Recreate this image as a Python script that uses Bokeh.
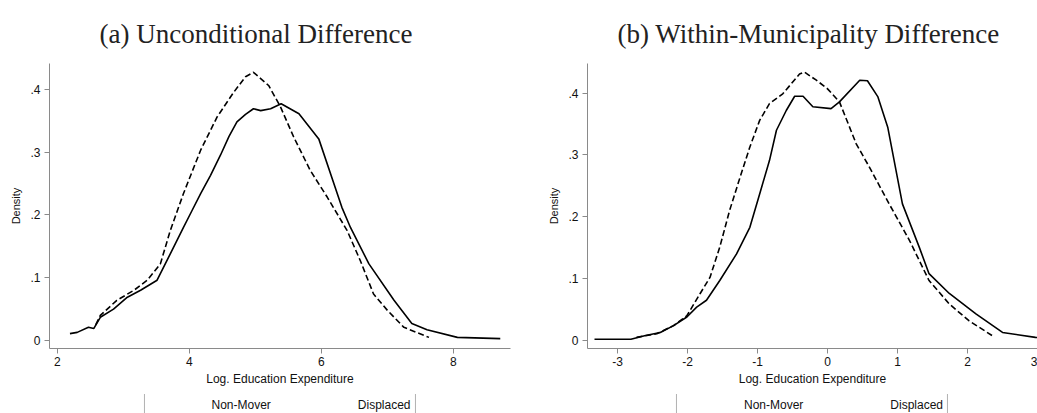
from bokeh.plotting import figure
from bokeh.layouts import gridplot
from bokeh.models import FixedTicker, Range1d, Legend, LegendItem, CustomJSTickFormatter
from bokeh.embed import file_html
from bokeh.resources import INLINE

# ---------------- data ----------------
title_a = "(a) Unconditional Difference"
title_b = "(b) Within-Municipality Difference"
x_label = "Log. Education Expenditure"
y_label = "Density"
series_names = ["Non-Mover", "Displaced"]

y_ticks = [0, 0.1, 0.2, 0.3, 0.4]
y_tick_labels = ["0", ".1", ".2", ".3", ".4"]
x_ticks_a = [2, 4, 6, 8]
x_tick_labels_a = ["2", "4", "6", "8"]
x_ticks_b = [-3, -2, -1, 0, 1, 2, 3]
x_tick_labels_b = ["-3", "-2", "-1", "0", "1", "2", "3"]

nonmover_a_x = [2.19, 2.30, 2.47, 2.55, 2.65, 2.85, 3.06, 3.26, 3.51, 3.71, 3.91, 4.04, 4.17, 4.32,
                4.47, 4.60, 4.72, 4.85, 4.97, 5.08, 5.23, 5.39, 5.66, 5.96, 6.31, 6.44, 6.72, 7.10,
                7.37, 7.60, 8.06, 8.71]
nonmover_a_y = [.011, .013, .021, .019, .037, .050, .069, .080, .096, .138, .180, .207, .234, .263,
                .295, .325, .348, .360, .369, .366, .369, .377, .361, .321, .212, .180, .122, .064,
                .027, .017, .005, .003]
displaced_a_x = [2.58, 2.65, 2.90, 3.16, 3.36, 3.56, 3.71, 3.91, 4.17, 4.42, 4.67, 4.85, 4.97, 5.08,
                 5.20, 5.38, 5.58, 5.83, 6.09, 6.39, 6.59, 6.79, 7.00, 7.25, 7.63]
displaced_a_y = [.025, .040, .064, .080, .096, .122, .175, .234, .303, .356, .395, .420, .427, .417,
                 .406, .372, .324, .271, .228, .175, .127, .074, .048, .021, .005]

nonmover_b_x = [-3.33, -2.81, -2.60, -2.39, -2.20, -2.01, -1.87, -1.73, -1.54, -1.30, -1.11, -0.97,
                -0.83, -0.73, -0.59, -0.47, -0.35, -0.21, 0.05, 0.17, 0.46, 0.57, 0.72, 0.86, 1.07,
                1.31, 1.45, 1.74, 2.12, 2.50, 2.97, 3.30]
nonmover_b_y = [.002, .002, .008, .013, .024, .038, .054, .065, .097, .140, .183, .237, .291, .340,
                .372, .395, .395, .378, .375, .386, .421, .420, .394, .345, .221, .151, .108, .076,
                .043, .013, .005, .002]
displaced_b_x = [-2.73, -2.44, -2.20, -2.01, -1.82, -1.68, -1.54, -1.40, -1.25, -1.11, -0.97, -0.83,
                 -0.64, -0.40, -0.33, -0.16, 0.00, 0.17, 0.41, 0.60, 0.88, 1.17, 1.45, 1.74, 2.02, 2.35]
displaced_b_y = [.005, .011, .024, .040, .076, .102, .151, .210, .264, .313, .356, .383, .399, .431,
                 .434, .421, .407, .386, .318, .280, .221, .162, .097, .059, .032, .008]

AXIS_GRAY = "#8a8a8a"
SANS = "Liberation Sans"
SERIF = "Liberation Serif"

JS_LABELS = """
for (let i = 0; i < tvals.length; i++) {
    if (Math.abs(tick - tvals[i]) < 1e-9) { return tlabels[i]; }
}
return String(tick);
"""


def label_formatter(vals, labels):
    return CustomJSTickFormatter(args=dict(tvals=vals, tlabels=labels), code=JS_LABELS)


def make_panel(title, frame_w, x_range, y_range, x_ticks, x_labels, xs, ys, border_left,
               border_right, title_offset):
    p = figure(frame_width=frame_w, frame_height=285, output_backend="svg", toolbar_location=None,
               x_range=Range1d(*x_range), y_range=Range1d(*y_range), title=title,
               min_border_left=border_left, min_border_right=border_right,
               min_border_top=63, min_border_bottom=0)
    p.outline_line_color = None
    p.grid.visible = False

    p.title.text_font = SERIF
    p.title.text_font_size = "27px"
    p.title.text_font_style = "normal"
    p.title.text_color = "#222222"
    p.title.align = "left"
    p.title.vertical_align = "top"
    p.title.offset = title_offset
    p.title.standoff = 26

    for ax in (p.xaxis[0], p.yaxis[0]):
        ax.axis_line_color = AXIS_GRAY
        ax.major_tick_line_color = AXIS_GRAY
        ax.minor_tick_line_color = None
        ax.major_tick_out = 5
        ax.major_tick_in = 0
        ax.major_label_text_font = SANS
        ax.major_label_text_font_size = "12px"
        ax.major_label_text_color = "#111111"
        ax.axis_label_text_font = SANS
        ax.axis_label_text_font_size = "12px"
        ax.axis_label_text_font_style = "normal"
        ax.axis_label_text_color = "#111111"

    p.xaxis.ticker = FixedTicker(ticks=x_ticks)
    p.xaxis.formatter = label_formatter(x_ticks, x_labels)
    p.xaxis.axis_label = x_label
    p.xaxis.major_label_standoff = 3
    p.xaxis.axis_label_standoff = 3

    p.yaxis.ticker = FixedTicker(ticks=y_ticks)
    p.yaxis.formatter = label_formatter(y_ticks, y_tick_labels)
    p.yaxis.axis_label = y_label
    p.yaxis.major_label_orientation = "horizontal"
    p.yaxis.major_label_standoff = 4
    p.yaxis.axis_label_standoff = 5
    p.yaxis.axis_label_text_font_size = "11px"

    p.line(xs[0], ys[0], line_color="black", line_width=1.6)
    p.line(xs[1], ys[1], line_color="black", line_width=1.6, line_dash="6 3")
    return p


def make_legend(frame_w, border_left, border_right):
    lf = figure(frame_width=frame_w, frame_height=22, output_backend="svg", toolbar_location=None,
                x_axis_type=None, y_axis_type=None,
                min_border_left=border_left, min_border_right=border_right,
                min_border_top=6, min_border_bottom=0)
    lf.outline_line_color = None
    lf.grid.visible = False
    # legend proxies (no data of their own)
    r1 = lf.line(x=[], y=[], line_color="black", line_width=1.6)
    r2 = lf.line(x=[], y=[], line_color="black", line_width=1.6, line_dash="6 3")
    legend = Legend(items=[LegendItem(label=series_names[0], renderers=[r1]),
                           LegendItem(label=series_names[1], renderers=[r2])],
                    orientation="horizontal", location="center")
    legend.label_text_font = SANS
    legend.label_text_font_size = "12px"
    legend.label_text_color = "#111111"
    legend.glyph_width = 50
    legend.glyph_height = 12
    legend.label_height = 12
    legend.label_standoff = 13
    legend.spacing = 24
    legend.padding = 4
    legend.margin = 0
    legend.border_line_color = "#666666"
    legend.border_line_width = 1
    lf.add_layout(legend, "center")
    return lf


p1 = make_panel(title_a, 461, (1.88, 8.865), (-0.0127, 0.441), x_ticks_a, x_tick_labels_a,
                [nonmover_a_x, displaced_a_x], [nonmover_a_y, displaced_a_y], 49, 10, 50)
p2 = make_panel(title_b, 450, (-3.43, 3.0), (-0.013, 0.448), x_ticks_b, x_tick_labels_b,
                [nonmover_b_x, displaced_b_x], [nonmover_b_y, displaced_b_y], 67, 0, 30)
l1 = make_legend(461, 49, 10)
l2 = make_legend(450, 67, 0)

layout = gridplot([[p1, p2], [l1, l2]], toolbar_location=None)
open("out.html", "w").write(file_html(layout, INLINE))
